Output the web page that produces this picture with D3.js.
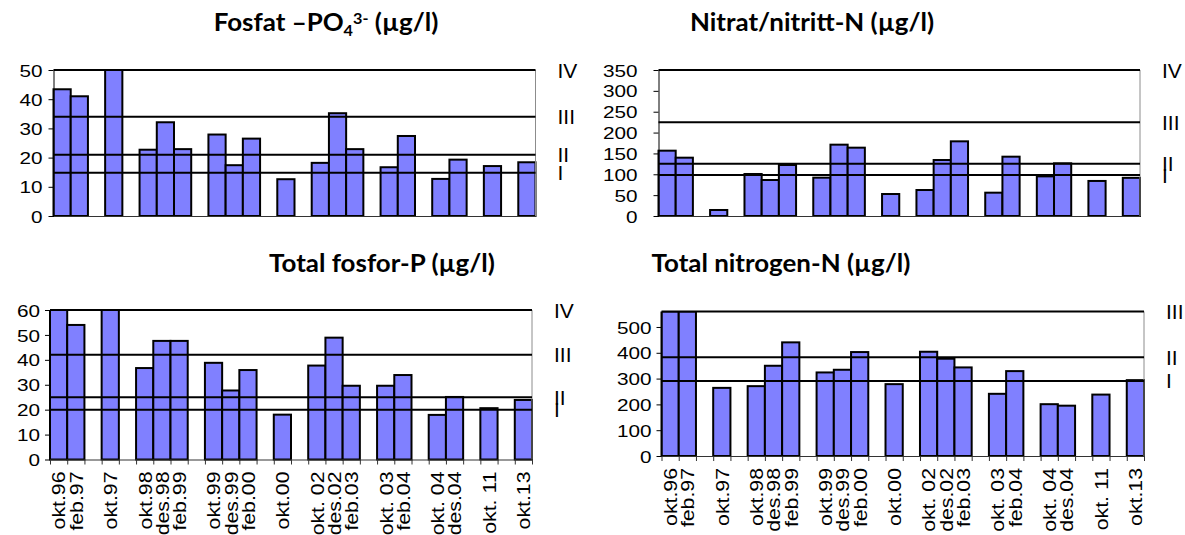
<!DOCTYPE html>
<html>
<head>
<meta charset="utf-8">
<script src="https://cdn.jsdelivr.net/npm/d3@7"></script>
<style>
  body { margin: 0; background: #fff; }
  svg { display: block; }
  text { font-family: "Liberation Sans", Arial, sans-serif; }
</style>
</head>
<body>
<svg id="chart" width="1185" height="535"></svg>
<script>
// sampling dates, "" marks an empty gap slot in the category axis
const categories = ['okt.96', 'feb.97', '', 'okt.97', '', 'okt.98', 'des.98', 'feb.99', '', 'okt.99', 'des.99', 'feb.00', '',
  'okt.00', '', 'okt. 02', 'des.02', 'feb.03', '', 'okt. 03', 'feb.04', '', 'okt. 04', 'des.04', '', 'okt. 11', '', 'okt.13'];

// values in µg/l (null = no sample)
const fosfat = [43.4, 41, null, 50, null, 22.7, 32.1, 22.9, null, 27.9, 17.4, 26.5, null, 12.6, null,
  18.2, 35.2, 22.9, null, 16.7, 27.4, null, 12.7, 19.3, null, 17.1, null, 18.4];
const nitrat = [156.6, 139.8, null, 14.4, null, 100.7, 86.3, 122.3, null, 91.9, 171, 163.8, null, 52.7, null,
  62.3, 134.2, 179, null, 55.9, 142.2, null, 95, 126.3, null, 84, null, 91.5];
const totalFosfor = [60, 54, null, 60, null, 36.7, 47.6, 47.6, null, 38.8, 27.7, 35.9, null, 18, null,
  37.7, 48.9, 29.6, null, 29.6, 33.9, null, 17.9, 25.1, null, 20.6, null, 23.9];
const totalNitrogen = [560, 560, null, 264, null, 270.7, 349.7, 440.4, null, 323.8, 334.2, 402.8, null, 278.5, null,
  404, 377, 343.3, null, 241, 329, null, 200.8, 195, null, 238, null, 294];

// class limits (tilstandsklasser)
const fosfatLimits = [50, 34, 21, 14.8];
const nitratLimits = [350, 225, 125, 98];
const totalFosforLimits = [60, 42, 25, 20];
const totalNitrogenLimits = [560, 383, 291];
const classNames4 = ['IV', 'III', 'II', 'I'];
const classNames3 = ['III', 'II', 'I'];

// y tick values
const fosfatTicks = [0, 10, 20, 30, 40, 50];
const nitratTicks = [0, 50, 100, 150, 200, 250, 300, 350];
const totalFosforTicks = [0, 10, 20, 30, 40, 50, 60];
const totalNitrogenTicks = [0, 100, 200, 300, 400, 500];

const svg = d3.select('#chart');
svg.append('rect').attr('width', 1185).attr('height', 535).attr('fill', '#fff');

function drawTitle(parts, cx, baseline) {
  const t = svg.append('text')
    .attr('transform', `translate(${cx},${baseline}) scale(1.08,1)`)
    .attr('text-anchor', 'middle')
    .style('font-family', 'Lato, "Open Sans", sans-serif')
    .style('font-weight', 'bold')
    .style('font-size', '24px')
    .attr('fill', '#000');
  parts.forEach(p => {
    const ts = t.append('tspan').text(p.t);
    if (p.size) ts.style('font-size', p.size + 'px');
    if (p.dy) ts.attr('dy', p.dy);
  });
}

function drawPanel(p) {
  const n = categories.length;
  const x = d3.scaleBand().domain(d3.range(n)).range([p.left, p.right]).padding(0);
  const xb = d3.scaleLinear().domain([0, n]).range([p.left, p.right]);
  const y = d3.scaleLinear().domain([0, p.max]).range([p.bottom, p.top]);
  const g = svg.append('g');

  g.append('clipPath').attr('id', 'clip-' + p.id)
    .append('rect').attr('x', p.left - 3).attr('y', p.top).attr('width', p.right - p.left + 6).attr('height', p.bottom - p.top + 3);

  // bars
  g.append('g').attr('clip-path', `url(#clip-${p.id})`)
    .selectAll('rect')
    .data(p.values.map((v, i) => ({ v, i })).filter(d => d.v != null))
    .join('rect')
    .attr('x', d => x(d.i))
    .attr('width', x.bandwidth())
    .attr('y', d => y(Math.min(d.v, p.max)))
    .attr('height', d => y(0) - y(Math.min(d.v, p.max)))
    .attr('fill', '#8080ff')
    .attr('stroke', '#000')
    .attr('stroke-width', 2);

  // right border
  g.append('line').attr('x1', p.right).attr('x2', p.right).attr('y1', p.top).attr('y2', p.bottom)
    .attr('stroke', '#8c8c8c').attr('stroke-width', 1);

  // y axis
  const yAxis = g.append('g').attr('transform', `translate(${p.left},0)`)
    .call(d3.axisLeft(y).tickValues(p.ticks).tickSize(5).tickSizeOuter(0));
  yAxis.select('.domain').attr('stroke', '#000');
  yAxis.selectAll('.tick line').attr('stroke', '#000');
  yAxis.selectAll('.tick text')
    .attr('x', -p.labelGap / 1.22)
    .attr('transform', 'scale(1.22,1)')
    .attr('dy', '0.36em')
    .style('font-size', '17px')
    .style('font-family', '"Liberation Sans", Arial, sans-serif')
    .attr('fill', '#000');

  // x axis line (+ ticks at slot boundaries on the lower charts)
  const xAxis = g.append('g').attr('transform', `translate(0,${p.bottom})`)
    .call(d3.axisBottom(xb).tickValues(p.labels ? d3.range(n + 1) : []).tickFormat('').tickSize(5).tickSizeOuter(0));
  xAxis.select('.domain').attr('stroke', '#333');
  xAxis.selectAll('.tick line').attr('stroke', '#333');

  if (p.labels) {
    g.append('g').selectAll('text')
      .data(categories.map((c, i) => ({ c, i })).filter(d => d.c))
      .join('text')
      .attr('transform', d => `translate(${x(d.i) + x.bandwidth() / 2},${p.bottom + 12}) rotate(-90) scale(1.12,1)`)
      .attr('text-anchor', 'end')
      .attr('dy', '0.36em')
      .style('font-size', '19px')
      .attr('fill', '#000')
      .text(d => d.c);
  }

  // class limit lines
  g.append('g').selectAll('line')
    .data(p.limits)
    .join('line')
    .attr('x1', p.left).attr('x2', p.right)
    .attr('y1', d => y(d)).attr('y2', d => y(d))
    .attr('stroke', '#000').attr('stroke-width', 2);

  g.append('g').selectAll('text')
    .data(p.limits.map((v, i) => ({ v, name: p.classNames[i] })))
    .join('text')
    .attr('x', p.right + 22)
    .attr('y', d => y(d.v))
    .attr('dy', '0.36em')
    .style('font-size', '21px')
    .attr('fill', '#000')
    .text(d => d.name);
}

drawTitle([{ t: 'Fosfat –PO' }, { t: '4', size: 15, dy: 5 }, { t: '3-', size: 15, dy: -12 }, { t: ' (µg/l)', dy: 7 }], 326, 31);
drawTitle([{ t: 'Nitrat/nitritt-N (µg/l)' }], 812, 31);
drawTitle([{ t: 'Total fosfor-P (µg/l)' }], 382, 272);
drawTitle([{ t: 'Total nitrogen-N (µg/l)' }], 781, 272);

drawPanel({ id: 'po4', values: fosfat, max: 50, ticks: fosfatTicks, limits: fosfatLimits, classNames: classNames4,
  left: 53.5, right: 535.5, top: 70, bottom: 216, labelGap: 11, labels: false });
drawPanel({ id: 'no3', values: nitrat, max: 350, ticks: nitratTicks, limits: nitratLimits, classNames: classNames4,
  left: 658.5, right: 1140, top: 70, bottom: 216, labelGap: 21, labels: false });
drawPanel({ id: 'totp', values: totalFosfor, max: 60, ticks: totalFosforTicks, limits: totalFosforLimits, classNames: classNames4,
  left: 50, right: 532, top: 310, bottom: 459.5, labelGap: 10, labels: true });
drawPanel({ id: 'totn', values: totalNitrogen, max: 560, ticks: totalNitrogenTicks, limits: totalNitrogenLimits, classNames: classNames3,
  left: 661.5, right: 1144, top: 311.5, bottom: 456, labelGap: 10, labels: true });
</script>
</body>
</html>
